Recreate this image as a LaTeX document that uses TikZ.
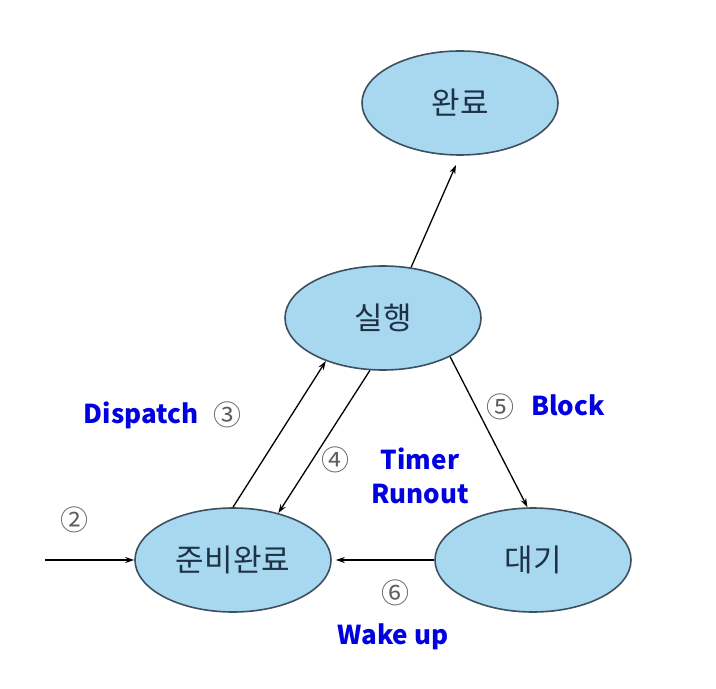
\documentclass[tikz,border=0pt]{standalone}
\usepackage{fontspec}
\setmainfont{Noto Sans CJK KR}
\usetikzlibrary{shapes.geometric, arrows.meta}
\definecolor{statefill}{RGB}{168,216,240}
\definecolor{stateline}{RGB}{60,80,95}
\definecolor{statetext}{RGB}{30,50,70}
\definecolor{labelblue}{RGB}{0,0,225}
\definecolor{numgray}{RGB}{95,95,95}
\begin{document}
\begin{tikzpicture}[x=0.5pt, y=-0.5pt, >={Stealth[length=4.5pt, width=3pt]}, line width=0.65pt]
    \tikzstyle{state} = [ellipse, draw=stateline, line width=0.8pt, fill=statefill, minimum width=98pt, minimum height=52pt, inner sep=0pt, text=statetext, font=\fontsize{15.5}{17}\selectfont]
    \tikzstyle{num} = [text=numgray, font=\fontsize{14}{16}\selectfont, inner sep=0pt]
    \tikzstyle{lbl} = [text=labelblue, font=\fontsize{13}{16}\selectfont\bfseries, inner sep=0pt, align=center]

    \useasboundingbox (0,0) rectangle (716,689);

    % States
    \node[state] (ready) at (233,560) {준비완료};
    \node[state] (wait) [right of=ready, node distance=150pt] {대기};
    \node[state] (run) [above of=ready, node distance=121pt, xshift=75pt] {실행};
    \node[state] (done) [above of=run, node distance=107.5pt, xshift=38.5pt] {완료};
    \coordinate (in) at (45,560);

    % Transitions
    \draw[->] (in) -- (ready.west);
    \draw[->] (ready.north) -- (run.217);
    \draw[->] (run.256) -- (ready.46);
    \draw[->] (run.-30) -- (wait.96);
    \draw[->, shorten >=2pt] (wait.west) -- (ready.east);
    \draw[->, shorten >=5pt] (run.61) -- (done.south);

    % Labels
    \node[num] (n2) at (74,520) {②};
    \node[lbl] (dispatch) at (141,415) {Dispatch};
    \node[num] (n3) at (227,415) {③};
    \node[num] (n4) at (335,460) {④};
    \node[lbl] (timer) at (420,476) {Timer\\[1pt]Runout};
    \node[num] (n5) at (500,407) {⑤};
    \node[lbl] (block) at (568,405) {Block};
    \node[num] (n6) at (395,593) {⑥};
    \node[lbl] (wake) at (393,637) {Wake up};
\end{tikzpicture}
\end{document}
